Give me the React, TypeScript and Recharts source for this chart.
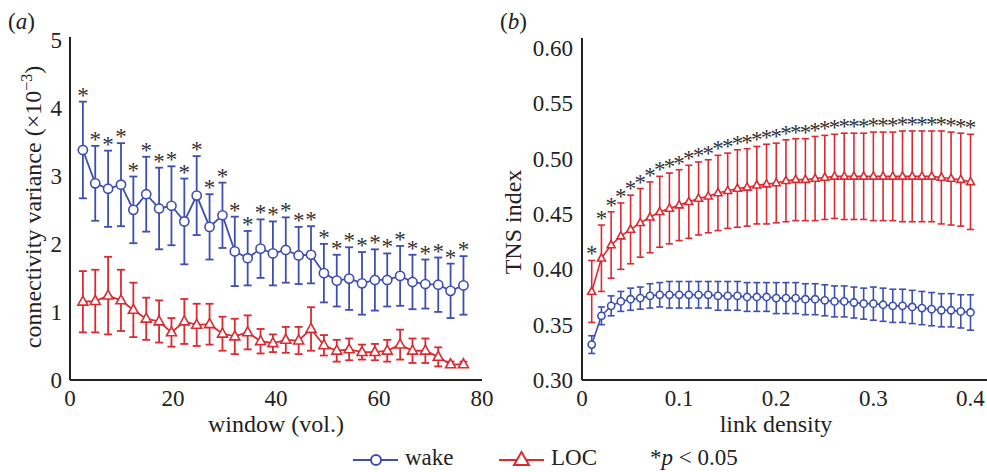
import React from 'react';
import { LineChart, Line, XAxis, YAxis, ErrorBar } from 'recharts';

const FONT = '"Liberation Serif", "Times New Roman", serif';
const BLUE = '#3d4fb1';
const RED = '#dc2a31';
const STAR = '#333333';
const AXIS = '#222';

// Panel (a): connectivity variance vs window
const windowA = [2.5, 4.9, 7.4, 9.9, 12.3, 14.8, 17.3, 19.7, 22.2, 24.6, 27.1, 29.6, 32.0, 34.5, 37.0, 39.4, 41.9, 44.4, 46.8, 49.3, 51.8, 54.2, 56.7, 59.2, 61.6, 64.1, 66.5, 69.0, 71.5, 73.9, 76.4];
const wakeMeanA = [3.38, 2.89, 2.81, 2.87, 2.50, 2.73, 2.52, 2.56, 2.33, 2.71, 2.25, 2.42, 1.89, 1.79, 1.93, 1.86, 1.91, 1.83, 1.84, 1.57, 1.46, 1.49, 1.42, 1.47, 1.47, 1.53, 1.44, 1.41, 1.40, 1.31, 1.39];
const wakeErrA = [0.71, 0.55, 0.56, 0.61, 0.49, 0.55, 0.60, 0.58, 0.63, 0.58, 0.48, 0.48, 0.51, 0.40, 0.43, 0.47, 0.48, 0.42, 0.42, 0.43, 0.38, 0.46, 0.46, 0.45, 0.39, 0.44, 0.40, 0.36, 0.40, 0.40, 0.43];
const locMeanA = [1.15, 1.16, 1.24, 1.17, 1.03, 0.90, 0.86, 0.70, 0.86, 0.81, 0.82, 0.68, 0.64, 0.70, 0.57, 0.54, 0.59, 0.58, 0.75, 0.51, 0.43, 0.45, 0.41, 0.41, 0.43, 0.52, 0.43, 0.43, 0.34, 0.23, 0.23];
const locErrA = [0.45, 0.46, 0.57, 0.45, 0.40, 0.31, 0.31, 0.21, 0.33, 0.31, 0.30, 0.25, 0.26, 0.25, 0.18, 0.13, 0.19, 0.20, 0.32, 0.15, 0.16, 0.16, 0.11, 0.12, 0.16, 0.22, 0.18, 0.18, 0.14, 0.04, 0.04];
const sigA = [1, 1, 1, 1, 1, 1, 1, 1, 1, 1, 1, 1, 1, 1, 1, 1, 1, 1, 1, 1, 1, 1, 1, 1, 1, 1, 1, 1, 1, 1, 1];
const xTicksA = [0, 20, 40, 60, 80];
const yTicksA = [0, 1, 2, 3, 4, 5];

// Panel (b): TNS index vs link density
const densityB = [0.01, 0.02, 0.03, 0.04, 0.05, 0.06, 0.07, 0.08, 0.09, 0.10, 0.11, 0.12, 0.13, 0.14, 0.15, 0.16, 0.17, 0.18, 0.19, 0.20, 0.21, 0.22, 0.23, 0.24, 0.25, 0.26, 0.27, 0.28, 0.29, 0.30, 0.31, 0.32, 0.33, 0.34, 0.35, 0.36, 0.37, 0.38, 0.39, 0.40];
const wakeMeanB = [0.332, 0.358, 0.367, 0.371, 0.373, 0.374, 0.376, 0.377, 0.377, 0.377, 0.377, 0.377, 0.377, 0.376, 0.376, 0.376, 0.375, 0.375, 0.375, 0.374, 0.374, 0.374, 0.373, 0.373, 0.372, 0.371, 0.371, 0.370, 0.369, 0.369, 0.368, 0.367, 0.367, 0.366, 0.365, 0.364, 0.363, 0.363, 0.362, 0.361];
const wakeErrB = [0.008, 0.008, 0.009, 0.009, 0.010, 0.010, 0.011, 0.011, 0.012, 0.012, 0.012, 0.012, 0.012, 0.013, 0.013, 0.013, 0.013, 0.013, 0.013, 0.014, 0.014, 0.014, 0.014, 0.014, 0.014, 0.014, 0.014, 0.014, 0.014, 0.015, 0.015, 0.015, 0.015, 0.015, 0.015, 0.015, 0.015, 0.015, 0.015, 0.016];
const locMeanB = [0.380, 0.410, 0.422, 0.430, 0.436, 0.442, 0.447, 0.452, 0.455, 0.458, 0.461, 0.464, 0.466, 0.469, 0.471, 0.473, 0.474, 0.476, 0.477, 0.478, 0.480, 0.481, 0.481, 0.482, 0.483, 0.484, 0.484, 0.484, 0.484, 0.484, 0.484, 0.484, 0.484, 0.484, 0.484, 0.484, 0.483, 0.482, 0.481, 0.479];
const locErrB = [0.028, 0.030, 0.030, 0.030, 0.031, 0.031, 0.032, 0.032, 0.032, 0.032, 0.033, 0.033, 0.033, 0.034, 0.034, 0.035, 0.035, 0.035, 0.036, 0.036, 0.037, 0.037, 0.037, 0.038, 0.038, 0.038, 0.039, 0.039, 0.039, 0.040, 0.040, 0.040, 0.041, 0.041, 0.041, 0.041, 0.042, 0.042, 0.042, 0.043];
const sigB = [1, 1, 1, 1, 1, 1, 1, 1, 1, 1, 1, 1, 1, 1, 1, 1, 1, 1, 1, 1, 1, 1, 1, 1, 1, 1, 1, 1, 1, 1, 1, 1, 1, 1, 1, 1, 1, 1, 1, 1];
const xTicksB = [0, 0.1, 0.2, 0.3, 0.4];
const yTicksB = [0.30, 0.35, 0.40, 0.45, 0.50, 0.55, 0.60];

const dataA = windowA.map((w, i) => ({
  x: w, wake: wakeMeanA[i], wakeErr: wakeErrA[i], loc: locMeanA[i], locErr: locErrA[i], sig: sigA[i],
}));
const dataB = densityB.map((d, i) => ({
  x: d, wake: wakeMeanB[i], wakeErr: wakeErrB[i], loc: locMeanB[i], locErr: locErrB[i], sig: sigB[i],
}));

const tickStyle = { fontFamily: FONT, fontSize: 23, fill: AXIS };
const axisLine = { stroke: AXIS, strokeWidth: 2 };

const circleDot = (r: number, color: string, tag: string) => (props: any) => {
  const { cx, cy, index } = props;
  if (cx == null || cy == null) return <g key={`${tag}${index}`} />;
  return <circle key={`${tag}${index}`} cx={cx} cy={cy} r={r} fill="#fff" stroke={color} strokeWidth={1.6} />;
};

const triDot = (s: number, color: string, tag: string) => (props: any) => {
  const { cx, cy, index } = props;
  if (cx == null || cy == null) return <g key={`${tag}${index}`} />;
  const h = s * 0.9;
  const d = `M${cx},${cy - h * 0.62} L${cx + s / 2},${cy + h * 0.38} L${cx - s / 2},${cy + h * 0.38} Z`;
  return <path key={`${tag}${index}`} d={d} fill="#fff" stroke={color} strokeWidth={1.6} strokeLinejoin="miter" />;
};

const starDot = (tag: string) => (props: any) => {
  const { cx, cy, index, payload } = props;
  if (cx == null || cy == null || !payload || !payload.sig) return <g key={`${tag}${index}`} />;
  return (
    <text key={`${tag}${index}`} x={cx} y={cy + 1} textAnchor="middle" fontFamily={FONT} fontSize={23} fill={STAR}>
      *
    </text>
  );
};

function PanelA() {
  return (
    <LineChart width={500} height={472} data={dataA} margin={{ top: 37, right: 18, bottom: 62, left: 0 }}>
      <XAxis
        type="number" dataKey="x" domain={[0, 80]} ticks={xTicksA} tickLine={false} tickSize={0} tickMargin={10}
        height={30} axisLine={axisLine} tick={tickStyle} interval={0}
      />
      <YAxis
        type="number" domain={[0, 5.04]} ticks={yTicksA} tickLine={false} tickSize={0} tickMargin={8}
        width={70} axisLine={axisLine} tick={tickStyle} interval={0}
      />
      <Line dataKey="loc" stroke={RED} strokeWidth={1.8} dot={triDot(10, RED, 'la')} activeDot={false} isAnimationActive={false}>
        <ErrorBar dataKey="locErr" direction="y" width={4} stroke={RED} strokeWidth={1.8} />
      </Line>
      <Line dataKey="wake" stroke={BLUE} strokeWidth={1.8} dot={circleDot(4.6, BLUE, 'wa')} activeDot={false} isAnimationActive={false}>
        <ErrorBar dataKey="wakeErr" direction="y" width={4} stroke={BLUE} strokeWidth={1.8} />
      </Line>
      <Line
        dataKey={(d: any) => d.wake + d.wakeErr} stroke="none" dot={starDot('sa')} activeDot={false}
        isAnimationActive={false} legendType="none"
      />
    </LineChart>
  );
}

function PanelB() {
  return (
    <LineChart width={487} height={472} data={dataB} margin={{ top: 38, right: 0, bottom: 62, left: 0 }}>
      <XAxis
        type="number" dataKey="x" domain={[0, 0.417]} ticks={xTicksB} tickLine={false} tickSize={0} tickMargin={10}
        height={30} axisLine={axisLine} tick={tickStyle} interval={0}
        tickFormatter={(v: number) => (v === 0 ? '0' : v.toFixed(1))}
      />
      <YAxis
        type="number" domain={[0.3, 0.609]} ticks={yTicksB} tickLine={false} tickSize={0} tickMargin={9}
        width={82} axisLine={axisLine} tick={tickStyle} interval={0}
        tickFormatter={(v: number) => v.toFixed(2)}
      />
      <Line dataKey="wake" stroke={BLUE} strokeWidth={1.6} dot={circleDot(3.6, BLUE, 'wb')} activeDot={false} isAnimationActive={false}>
        <ErrorBar dataKey="wakeErr" direction="y" width={3.5} stroke={BLUE} strokeWidth={1.6} />
      </Line>
      <Line dataKey="loc" stroke={RED} strokeWidth={1.6} dot={triDot(8, RED, 'lb')} activeDot={false} isAnimationActive={false}>
        <ErrorBar dataKey="locErr" direction="y" width={3.5} stroke={RED} strokeWidth={1.6} />
      </Line>
      <Line
        dataKey={(d: any) => d.loc + d.locErr} stroke="none" dot={starDot('sb')} activeDot={false}
        isAnimationActive={false} legendType="none"
      />
    </LineChart>
  );
}

function Overlay() {
  const t = { fontFamily: FONT, fill: AXIS } as const;
  return (
    <svg width={987} height={472} style={{ position: 'absolute', left: 0, top: 0, pointerEvents: 'none' }}>
      <text x={8} y={29} fontSize={23} {...t}>
        (<tspan fontStyle="italic">a</tspan>)
      </text>
      <text x={500} y={29} fontSize={23} {...t}>
        (<tspan fontStyle="italic">b</tspan>)
      </text>
      <text transform="translate(41,207) rotate(-90)" textAnchor="middle" fontSize={24} {...t}>
        connectivity variance (×10<tspan dy={-9} fontSize={16}>−3</tspan>
        <tspan dy={9}>)</tspan>
      </text>
      <text transform="translate(521,222) rotate(-90)" textAnchor="middle" fontSize={24} {...t}>
        TNS index
      </text>
      <text x={276} y={432} textAnchor="middle" fontSize={24} {...t}>window (vol.)</text>
      <text x={776} y={432} textAnchor="middle" fontSize={24} {...t}>link density</text>

      <line x1={353} y1={460} x2={398} y2={460} stroke={BLUE} strokeWidth={2} />
      <circle cx={376} cy={460} r={5} fill="#fff" stroke={BLUE} strokeWidth={2} />
      <text x={405} y={465} fontSize={23} {...t}>wake</text>

      <line x1={499} y1={460} x2={544} y2={460} stroke={RED} strokeWidth={2} />
      <path d="M521.5,452 L529,465 L514,465 Z" fill="#fff" stroke={RED} strokeWidth={2} />
      <text x={551} y={465} fontSize={23} {...t}>LOC</text>

      <text x={650} y={465} fontSize={23} {...t}>
        *<tspan fontStyle="italic">p</tspan> &lt; 0.05
      </text>
    </svg>
  );
}

export default function App() {
  return (
    <div style={{ position: 'absolute', left: 0, top: 0, width: 987, height: 472, background: '#fff', overflow: 'hidden' }}>
      <div style={{ position: 'absolute', left: 0, top: 0 }}>
        <PanelA />
      </div>
      <div style={{ position: 'absolute', left: 500, top: 0 }}>
        <PanelB />
      </div>
      <Overlay />
    </div>
  );
}
